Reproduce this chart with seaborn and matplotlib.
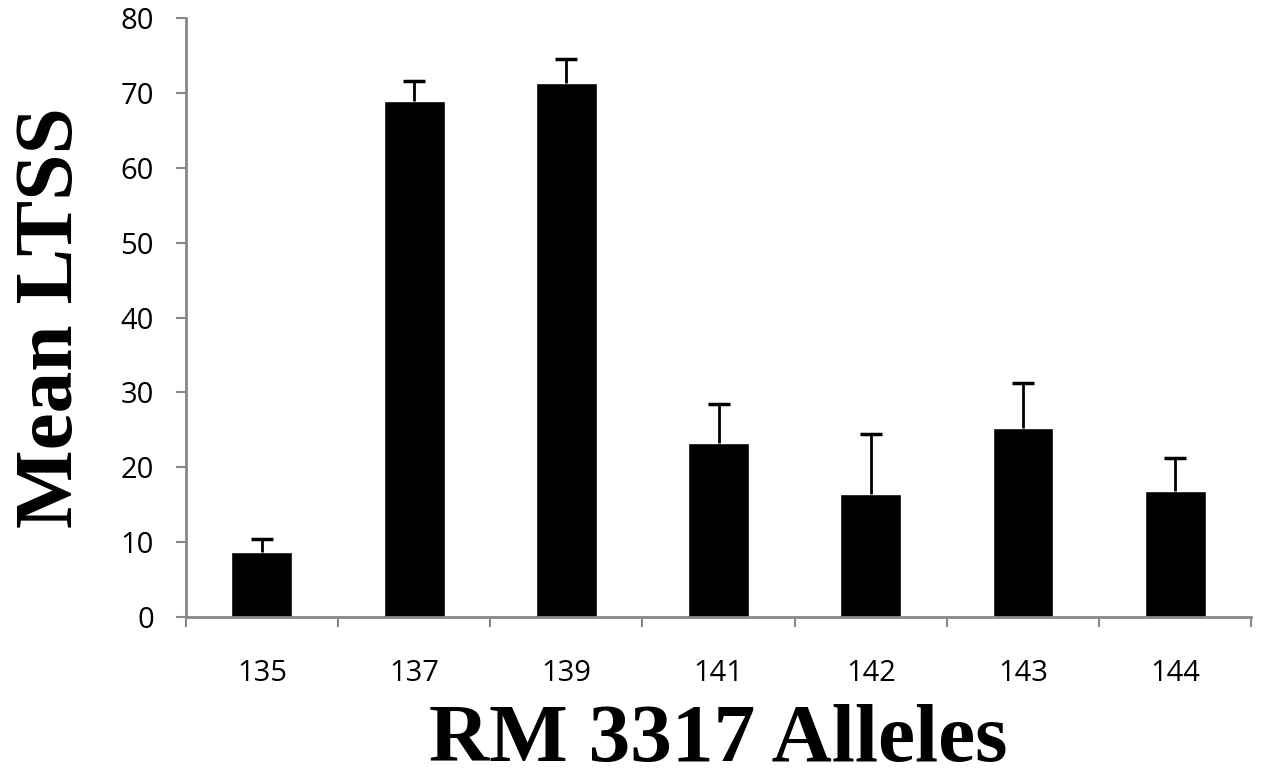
import matplotlib
matplotlib.use("Agg")
import matplotlib.pyplot as plt
import seaborn as sns
import numpy as np
import pandas as pd
from matplotlib.ticker import FixedLocator

alleles = ["135", "137", "139", "141", "142", "143", "144"]
mean_ltss = [8.7, 68.9, 71.3, 23.2, 16.4, 25.2, 16.8]
err_upper = [1.7, 2.7, 3.2, 5.2, 8.1, 6.1, 4.4]
y_ticks = [0, 10, 20, 30, 40, 50, 60, 70, 80]

sns.set_theme(style="white")
plt.rcParams['font.family'] = ['Open Sans', 'DejaVu Sans']

df = pd.DataFrame({"allele": alleles, "ltss": mean_ltss})

fig = plt.figure(figsize=(12.64, 7.83), dpi=100)
ax = fig.add_axes([0.147, 0.212, 0.843, 0.765])

sns.barplot(data=df, x="allele", y="ltss", color="black", width=0.4,
            saturation=1, ax=ax, errorbar=None)
eb = ax.errorbar(np.arange(len(alleles)), mean_ltss,
                 yerr=[np.zeros(len(alleles)), err_upper],
                 fmt="none", ecolor="black", elinewidth=2, capsize=8, capthick=2.5)
# hide the lower caps (only upper error bars in the reference)
eb[1][0].set_visible(False)

ax.set_xlim(-0.5, len(alleles) - 0.5)
ax.set_ylim(0, 80)
ax.set_yticks(y_ticks)

for s in ["top", "right"]:
    ax.spines[s].set_visible(False)
for s in ["left", "bottom"]:
    ax.spines[s].set_color("#888888")
    ax.spines[s].set_linewidth(2)

ax.tick_params(axis="x", which="major", length=0, pad=30, labelsize=21, labelcolor="black")
ax.xaxis.set_minor_locator(FixedLocator(np.arange(-0.5, len(alleles), 1.0)))
ax.tick_params(axis="x", which="minor", bottom=True, direction="out", length=7.5, width=1.5, color="#888888")
ax.tick_params(axis="y", which="major", left=True, direction="out", length=7, width=1.5,
               color="#888888", pad=16, labelsize=21, labelcolor="black")

serif = ["Liberation Serif", "DejaVu Serif"]
ax.set_xlabel("RM 3317 Alleles", fontsize=60, fontweight="bold", family=serif,
              color="black", labelpad=12)
ax.set_ylabel("Mean LTSS", fontsize=60, fontweight="bold", family=serif,
              color="black", labelpad=22)

fig.savefig("out.png", dpi=100)
